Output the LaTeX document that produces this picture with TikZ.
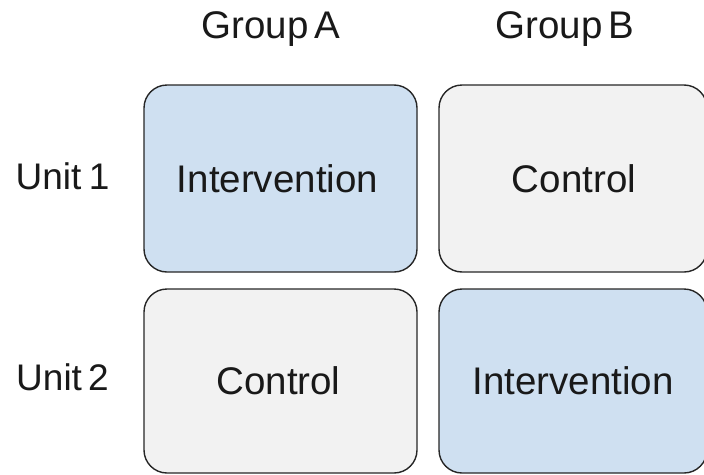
\documentclass[tikz,border=0pt]{standalone}
\usepackage{fontspec}
\setmainfont{Liberation Sans}
\begin{document}
\begin{tikzpicture}[x=1pt,y=-1pt,
  cell/.style={draw=black!85, line width=1.4pt, rounded corners=23pt, rectangle,
    inner sep=0pt, text=black!90, font=\fontsize{38.5}{44}\selectfont},
  blue cell/.style={cell, fill=blueFill},
  gray cell/.style={cell, fill=grayFill},
  lbl/.style={anchor=base, inner sep=0pt, text=black!90, font=\fontsize{38.5}{44}\selectfont},
  unitlbl/.style={lbl, font=\fontsize{37}{44}\selectfont}]
\definecolor{blueFill}{HTML}{CFE0F1}
\definecolor{grayFill}{HTML}{F2F2F2}
\useasboundingbox (0,0) rectangle (704,474);
\node[blue cell, minimum width=273pt, minimum height=187pt] (a1) at (280.5,178.5) {\hspace*{-6pt}Intervention};
\node[gray cell, minimum width=268pt, minimum height=187pt] (b1) at (573,178.5) {\hspace*{2pt}Control};
\node[gray cell, minimum width=273pt, minimum height=184pt] (a2) at (280.5,381) {\hspace*{-4pt}Control};
\node[blue cell, minimum width=268pt, minimum height=184pt] (b2) at (573,381) {Intervention};
\node[lbl] (ga) at (271,38) {Group\,A};
\node[lbl] (gb) at (565,38) {Group\,B};
\node[unitlbl] (u1) at (62.5,189) {Unit\hspace{0.2em}1};
\node[unitlbl] (u2) at (62.5,390) {Unit\,2};
\end{tikzpicture}
\end{document}
